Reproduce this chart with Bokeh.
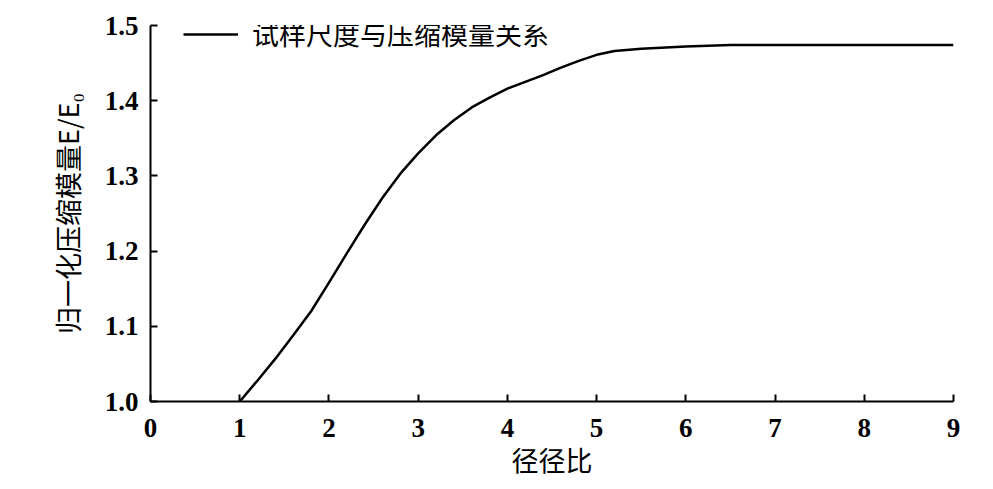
import numpy as np
from bokeh.plotting import figure
from bokeh.models import Range1d, FixedTicker, PrintfTickFormatter, Legend
from bokeh.embed import file_html
from bokeh.resources import INLINE

# ---- data ----
ratio = [1.0, 1.2, 1.4, 1.6, 1.8, 2.0, 2.2, 2.4, 2.6, 2.8, 3.0, 3.2, 3.4, 3.6, 3.8,
         4.0, 4.2, 4.4, 4.6, 4.8, 5.0, 5.2, 5.5, 6.0, 6.5, 7.0, 8.0, 9.0]
modulus = [1.000, 1.028, 1.057, 1.088, 1.120, 1.158, 1.197, 1.235, 1.271, 1.303, 1.330,
           1.354, 1.374, 1.391, 1.404, 1.416, 1.425, 1.434, 1.444, 1.453, 1.461, 1.466,
           1.469, 1.472, 1.474, 1.474, 1.474, 1.474]
x_ticks = [0, 1, 2, 3, 4, 5, 6, 7, 8, 9]
y_ticks = [1.0, 1.1, 1.2, 1.3, 1.4, 1.5]
series_name = "试样尺度与压缩模量关系"
x_title = "径径比"
y_title = "归一化压缩模量E/E₀"

CJK = "Noto Sans CJK SC"
SERIF = "Liberation Serif"

p = figure(width=975, height=485, output_backend="svg", toolbar_location=None,
           x_range=Range1d(0, 9), y_range=Range1d(1.0, 1.5),
           min_border_left=150, min_border_top=25, min_border_right=22, min_border_bottom=84)
p.outline_line_color = None
p.grid.visible = False
p.background_fill_color = "white"
p.border_fill_color = "white"

r = p.line(ratio, modulus, line_width=2.5, line_color="black")

for ax in (p.xaxis[0], p.yaxis[0]):
    ax.axis_line_color = "black"
    ax.axis_line_width = 2
    ax.major_tick_line_color = "black"
    ax.major_tick_line_width = 2
    ax.major_tick_in = 7
    ax.major_tick_out = 0
    ax.minor_tick_line_color = None
    ax.major_label_text_font = SERIF
    ax.major_label_text_font_style = "bold"
    ax.major_label_text_font_size = "27px"
    ax.major_label_text_color = "black"

p.xaxis[0].ticker = FixedTicker(ticks=x_ticks)
p.yaxis[0].ticker = FixedTicker(ticks=y_ticks)
p.yaxis[0].formatter = PrintfTickFormatter(format="%.1f")
p.xaxis[0].major_label_standoff = 17
p.yaxis[0].major_label_standoff = 12

p.xaxis[0].axis_label = x_title
p.yaxis[0].axis_label = y_title
for ax in (p.xaxis[0], p.yaxis[0]):
    ax.axis_label_text_font = CJK
    ax.axis_label_text_font_style = "normal"
    ax.axis_label_text_font_size = "27px"
    ax.axis_label_text_color = "black"
p.xaxis[0].axis_label_standoff = 0
p.yaxis[0].axis_label_standoff = 15

legend = Legend(items=[(series_name, [r])], location=(33, 348))
legend.margin = 0
legend.padding = 0
legend.spacing = 0
legend.border_line_alpha = 0
legend.background_fill_alpha = 0
legend.glyph_width = 55
legend.glyph_height = 20
legend.label_standoff = 14
legend.label_text_font = CJK
legend.label_text_font_size = "27px"
legend.label_text_color = "black"
p.add_layout(legend)

open("out.html", "w").write(file_html(p, INLINE))
